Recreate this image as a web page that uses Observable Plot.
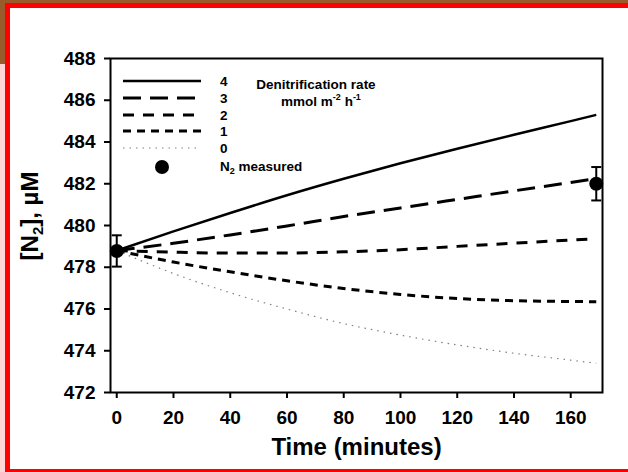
<!DOCTYPE html>
<html><head><meta charset="utf-8">
<script src="https://cdn.jsdelivr.net/npm/d3@7"></script>
<script src="https://cdn.jsdelivr.net/npm/@observablehq/plot@0.6"></script>
<style>
html,body{margin:0;padding:0;background:#fff;}
#wrap{position:relative;width:628px;height:472px;overflow:hidden;font-family:"Liberation Sans",Arial,sans-serif;}
.bg{position:absolute;}
#chart{position:absolute;left:0;top:0;}
</style></head><body>
<div id="wrap">
<div class="bg" style="left:0;top:0;width:628px;height:3px;background:#9a5b2b"></div>
<div class="bg" style="left:0;top:0;width:5px;height:64px;background:#9a5b2b"></div>
<div class="bg" style="left:0;top:64px;width:5px;height:408px;background:#ffd6d6"></div>
<div class="bg" style="left:5px;top:3px;width:623px;height:469px;box-sizing:border-box;border-left:5px solid #ff0000;border-top:5px solid #ff0000;border-bottom:3px solid #ff0000"></div>
<div id="chart"></div>
</div>
<script>
// ---- data ----
const times   = [0, 20, 40, 60, 80, 100, 120, 140, 160, 169];
const rate4   = [478.8, 479.72, 480.6, 481.45, 482.24, 482.98, 483.68, 484.35, 485.0, 485.3];
const rate3   = [478.8, 479.15, 479.55, 479.98, 480.43, 480.84, 481.25, 481.66, 482.06, 482.25];
const rate2   = [478.8, 478.72, 478.68, 478.68, 478.74, 478.84, 479.0, 479.15, 479.3, 479.36];
const rate1   = [478.8, 478.25, 477.78, 477.35, 476.98, 476.7, 476.5, 476.4, 476.36, 476.35];
const rate0   = [478.8, 477.7, 476.78, 476.0, 475.3, 474.75, 474.28, 473.88, 473.55, 473.4];
const measuredTime = [0, 169];
const measuredN2   = [478.78, 482.0];
const measuredErr  = [0.75, 0.8];
const xTicks = [0, 20, 40, 60, 80, 100, 120, 140, 160];
const yTicks = [472, 474, 476, 478, 480, 482, 484, 486, 488];
const legendLabels = ["4", "3", "2", "1", "0"];
const legendTitle1 = "Denitrification rate";
const xTitle = "Time (minutes)";

const rates = [rate4, rate3, rate2, rate1, rate0];
const styles = [
  {stroke: "#000", strokeWidth: 2.5, strokeDasharray: null},
  {stroke: "#000", strokeWidth: 3, strokeDasharray: "18,9"},
  {stroke: "#000", strokeWidth: 3, strokeDasharray: "11,9"},
  {stroke: "#000", strokeWidth: 3, strokeDasharray: "8,6"},
  {stroke: "#808080", strokeWidth: 1.2, strokeDasharray: "1.5,5"}
];
const measured = measuredTime.map((t, i) => ({t, v: measuredN2[i], lo: measuredN2[i] - measuredErr[i], hi: measuredN2[i] + measuredErr[i]}));
const cap = {draw(ctx, size) { const r = Math.sqrt(size / Math.PI); ctx.moveTo(-r, 0); ctx.lineTo(r, 0); }};

const lineMarks = rates.map((r, k) => Plot.line(times.map((t, i) => ({t, v: r[i]})), {
  x: "t", y: "v", stroke: styles[k].stroke, strokeWidth: styles[k].strokeWidth,
  strokeDasharray: styles[k].strokeDasharray, curve: "monotone-x", strokeLinecap: "butt"
}));

const plot = Plot.plot({
  width: 628, height: 472,
  marginLeft: 110, marginRight: 26, marginTop: 58, marginBottom: 80,
  style: {background: "transparent", fontFamily: "'Liberation Sans', Arial, sans-serif", color: "#000"},
  x: {domain: [-2.2, 171.2]},
  y: {domain: [472, 488]},
  marks: [
    Plot.frame({fill: "#fff"}),
    ...lineMarks,
    Plot.ruleX(measured, {x: "t", y1: "lo", y2: "hi", strokeWidth: 2}),
    Plot.dot(measured, {x: "t", y: "lo", symbol: cap, r: 5, stroke: "#000", strokeWidth: 2}),
    Plot.dot(measured, {x: "t", y: "hi", symbol: cap, r: 5, stroke: "#000", strokeWidth: 2}),
    Plot.dot(measured, {x: "t", y: "v", r: 7, fill: "#000"}),
    Plot.frame({stroke: "#000", strokeWidth: 2}),
    Plot.axisX({ticks: xTicks, tickSize: 6, tickPadding: 12, strokeWidth: 2, fontSize: 19, fontWeight: "bold", label: null}),
    Plot.axisY({ticks: yTicks, tickSize: 6, tickPadding: 9, strokeWidth: 2, fontSize: 19, fontWeight: "bold", label: null}),
    Plot.text([xTitle], {frameAnchor: "bottom", dy: 62, fontSize: 24, fontWeight: "bold"})
  ]
});
document.getElementById("chart").appendChild(plot);

const svg = d3.select(plot);
// y axis title with a real subscript
const yt = svg.append("text").attr("transform", "translate(38,216) rotate(-90)")
  .attr("text-anchor", "middle").attr("font-size", 24).attr("font-weight", "bold")
  .attr("font-family", "'Liberation Sans', Arial, sans-serif");
yt.append("tspan").text("[N");
yt.append("tspan").attr("font-size", 15).attr("dy", 5).text("2");
yt.append("tspan").attr("dy", -5).text("], µM");

// legend inside the plot (top-left of frame)
const g = svg.append("g").attr("font-family", "'Liberation Sans', Arial, sans-serif")
  .attr("font-weight", "bold").attr("font-size", 13.5).attr("text-anchor", "start");
const lx0 = 123, lx1 = 201, labX = 220;
const rowY = [81, 98, 115, 131, 148];
rates.forEach((r, k) => {
  g.append("line").attr("x1", lx0).attr("x2", lx1).attr("y1", rowY[k]).attr("y2", rowY[k])
    .attr("stroke", styles[k].stroke).attr("stroke-width", styles[k].strokeWidth)
    .attr("stroke-dasharray", styles[k].strokeDasharray);
  g.append("text").attr("x", labX).attr("y", rowY[k]).attr("dy", "0.36em").text(legendLabels[k]);
});
g.append("circle").attr("cx", 162).attr("cy", 167).attr("r", 7).attr("fill", "#000");
const nm = g.append("text").attr("x", labX).attr("y", 171);
nm.append("tspan").text("N");
nm.append("tspan").attr("font-size", 9).attr("dy", 3).text("2");
nm.append("tspan").attr("dy", -3).text(" measured");
g.append("text").attr("x", 316).attr("y", 89).attr("text-anchor", "middle").text(legendTitle1);
const mu = g.append("text").attr("x", 321).attr("y", 106).attr("text-anchor", "middle");
mu.append("tspan").text("mmol m");
mu.append("tspan").attr("font-size", 9).attr("dy", -6).text("-2");
mu.append("tspan").attr("dy", 6).text(" h");
mu.append("tspan").attr("font-size", 9).attr("dy", -6).text("-1");
</script>
</body></html>
